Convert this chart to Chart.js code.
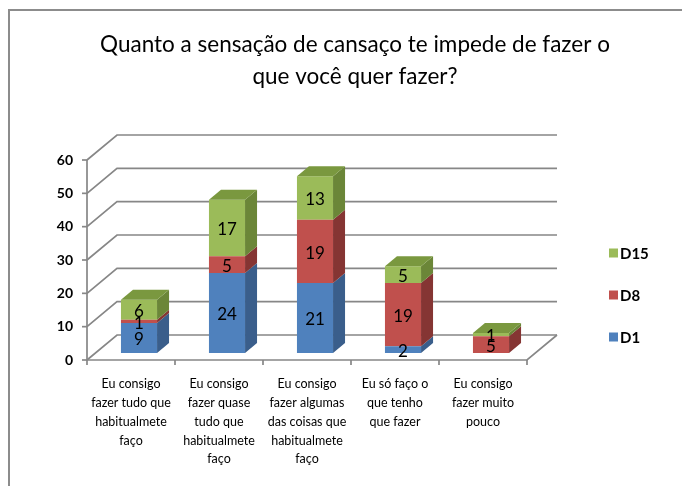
<!DOCTYPE html>
<html>
<head>
<meta charset="utf-8">
<script src="https://cdn.jsdelivr.net/npm/chart.js@4.4.0/dist/chart.umd.min.js"></script>
<style>
  html, body { margin: 0; padding: 0; background: #fff; }
  #wrap { position: relative; width: 682px; height: 486px; overflow: hidden; }
  #wrap canvas { position: absolute; left: 0; top: 0; }
  #frame { position: absolute; left: 8px; top: 9px; width: 700px; height: 500px;
           border-left: 2px solid #8c8c8c; border-top: 2px solid #8c8c8c; }
</style>
</head>
<body>
<div id="wrap">
  <canvas id="chart" width="682" height="486"></canvas>
  <div id="frame"></div>
</div>
<script>
// ====== data ======
const titleLines = ["Quanto a sensação de cansaço te impede de fazer o", "que você quer fazer?"];
const categories = [
  ["Eu consigo", "fazer tudo que", "habitualmete", "faço"],
  ["Eu consigo", "fazer quase", "tudo que", "habitualmete", "faço"],
  ["Eu consigo", "fazer algumas", "das coisas que", "habitualmete", "faço"],
  ["Eu só faço o", "que tenho", "que fazer"],
  ["Eu consigo", "fazer muito", "pouco"]
];
const seriesNames = ["D1", "D8", "D15"];
const d1Values = [9, 24, 21, 2, 0];
const d8Values = [1, 5, 19, 19, 5];
const d15Values = [6, 17, 13, 5, 1];
const yMin = 0, yMax = 60, yStep = 10;

// ====== look ======
const FONT = "Lato, 'Open Sans', sans-serif";
const GRID = "#878787";
const FRONT = { dx: -8, dy: 7 };   // front plane (axis) relative to bar plane
const BACK = { dx: 22, dy: -18 };  // back wall relative to bar plane
const BAR = { dx: 12, dy: -10 };   // bar depth

const colors = [
  { front: "#4F81BD", side: "#3A5E8B", top: "#41699B" },
  { front: "#C0504D", side: "#853533", top: "#9C3F3C" },
  { front: "#9BBB59", side: "#6B8638", top: "#7A983F" }
];

function poly(ctx, pts) {
  ctx.beginPath();
  ctx.moveTo(pts[0], pts[1]);
  for (let i = 2; i < pts.length; i += 2) ctx.lineTo(pts[i], pts[i + 1]);
  ctx.closePath();
  ctx.fill();
}

const depthPlugin = {
  id: "depth",
  beforeDatasetsDraw(chart) {
    const { ctx, chartArea: a, scales: { x, y } } = chart;
    ctx.save();
    ctx.strokeStyle = GRID;
    ctx.lineWidth = 1.7;
    // walls + gridlines
    y.ticks.forEach(t => {
      const py = y.getPixelForValue(t.value);
      ctx.beginPath();
      ctx.moveTo(a.left + FRONT.dx, py + FRONT.dy);
      ctx.lineTo(a.left + BACK.dx, py + BACK.dy);
      ctx.lineTo(a.right + BACK.dx, py + BACK.dy);
      ctx.stroke();
      ctx.beginPath();
      ctx.moveTo(a.left + FRONT.dx - 5, py + FRONT.dy);
      ctx.lineTo(a.left + FRONT.dx, py + FRONT.dy);
      ctx.stroke();
    });
    const y0 = y.getPixelForValue(yMin), yTop = y.getPixelForValue(yMax);
    ctx.beginPath();
    ctx.moveTo(a.left + FRONT.dx, yTop + FRONT.dy);
    ctx.lineTo(a.left + FRONT.dx, y0 + FRONT.dy);
    ctx.lineTo(a.right + FRONT.dx, y0 + FRONT.dy);
    ctx.lineTo(a.right + BACK.dx, y0 + BACK.dy);
    ctx.stroke();
    // category ticks on the floor edge
    const step = x.getPixelForValue(1) - x.getPixelForValue(0);
    for (let i = 0; i <= categories.length; i++) {
      const px = x.getPixelForValue(i) - step / 2 + FRONT.dx;
      ctx.beginPath();
      ctx.moveTo(px, y0 + FRONT.dy);
      ctx.lineTo(px, y0 + FRONT.dy + 5);
      ctx.stroke();
    }
    ctx.restore();
  },
  afterDatasetsDraw(chart) {
    const { ctx } = chart;
    const sets = chart.data.datasets;
    ctx.save();
    for (let j = 0; j < categories.length; j++) {
      let topIdx = -1;
      sets.forEach((ds, i) => { if (ds.data[j] > 0) topIdx = i; });
      sets.forEach((ds, i) => {
        if (!ds.data[j]) return;
        const bar = chart.getDatasetMeta(i).data[j];
        const { x: cx, y: top, base, width } = bar.getProps(["x", "y", "base", "width"], true);
        const l = cx - width / 2, r = cx + width / 2;
        ctx.fillStyle = colors[i].side;
        poly(ctx, [r, top, r + BAR.dx, top + BAR.dy, r + BAR.dx, base + BAR.dy, r, base]);
        if (i === topIdx) {
          ctx.fillStyle = colors[i].top;
          poly(ctx, [l, top, l + BAR.dx, top + BAR.dy, r + BAR.dx, top + BAR.dy, r, top]);
        }
      });
    }
    // value labels
    ctx.fillStyle = "#000";
    ctx.font = "17px " + FONT;
    ctx.textAlign = "center";
    ctx.textBaseline = "middle";
    sets.forEach((ds, i) => {
      chart.getDatasetMeta(i).data.forEach((bar, j) => {
        if (!ds.data[j]) return;
        const { x: cx, y: top, base } = bar.getProps(["x", "y", "base"], true);
        ctx.fillText(String(ds.data[j]), cx, (top + base) / 2 + 2);
      });
    });
    ctx.restore();
  },
  afterDraw(chart) {
    const { ctx } = chart;
    ctx.save();
    // title
    ctx.fillStyle = "#000";
    ctx.font = "22.5px " + FONT;
    ctx.textAlign = "center";
    ctx.textBaseline = "middle";
    titleLines.forEach((t, i) => ctx.fillText(t, 355, 45 + i * 32));
    // legend (reversed like the original)
    ctx.font = "bold 15px " + FONT;
    ctx.textAlign = "left";
    const sets = chart.data.datasets;
    for (let k = sets.length - 1, row = 0; k >= 0; k--, row++) {
      const cy = 253 + row * 42;
      ctx.fillStyle = colors[k].front;
      ctx.fillRect(609, cy - 4.5, 9, 9);
      ctx.fillStyle = "#000";
      ctx.fillText(sets[k].label, 620, cy + 1);
    }
    ctx.restore();
  }
};

const datasets = [d1Values, d8Values, d15Values].map((vals, i) => ({
  label: seriesNames[i],
  data: vals,
  backgroundColor: colors[i].front,
  borderWidth: 0,
  barPercentage: 0.41,
  categoryPercentage: 1
}));

new Chart(document.getElementById("chart").getContext("2d"), {
  type: "bar",
  data: { labels: categories, datasets },
  options: {
    responsive: false,
    animation: false,
    layout: { padding: { left: 0, right: 147, top: 153, bottom: 0 } },
    plugins: { legend: { display: false }, title: { display: false }, tooltip: { enabled: false } },
    scales: {
      x: {
        stacked: true,
        grid: { display: false, drawTicks: false },
        border: { display: false },
        ticks: {
          color: "#000",
          font: { family: FONT, size: 12.5, lineHeight: 1.5 },
          padding: 22,
          labelOffset: FRONT.dx,
          maxRotation: 0,
          autoSkip: false
        },
        afterFit(s) { s.height = 133; }
      },
      y: {
        stacked: true,
        min: yMin,
        max: yMax,
        grid: { display: false, drawTicks: false },
        border: { display: false },
        ticks: {
          stepSize: yStep,
          color: "#000",
          font: { family: FONT, size: 14, weight: "bold" },
          padding: 22,
          labelOffset: FRONT.dy
        },
        afterFit(s) { s.width = 95; }
      }
    }
  },
  plugins: [depthPlugin]
});
</script>
</body>
</html>
